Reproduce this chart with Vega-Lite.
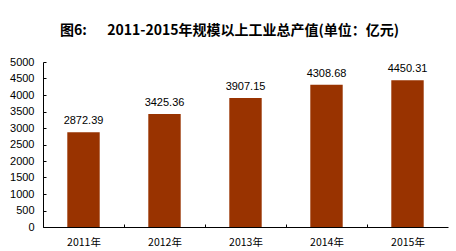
{
  "$schema": "https://vega.github.io/schema/vega-lite/v6.json",
  "width": 405,
  "height": 165,
  "autosize": {"type": "none"},
  "padding": {"left": 43, "right": 8, "top": 62, "bottom": 24},
  "background": "white",
  "title": {
    "text": "图6:\u3000\u00a0\u00a02011-2015年规模以上工业总产值(单位：亿元)",
    "font": "Noto Sans CJK SC",
    "fontSize": 14,
    "fontWeight": "bold",
    "color": "black",
    "anchor": "middle",
    "frame": "group",
    "dx": -16,
    "offset": 18
  },
  "data": {
    "values": [
      {"year": "2011年", "value": 2872.39, "label": "2872.39"},
      {"year": "2012年", "value": 3425.36, "label": "3425.36"},
      {"year": "2013年", "value": 3907.15, "label": "3907.15"},
      {"year": "2014年", "value": 4308.68, "label": "4308.68"},
      {"year": "2015年", "value": 4450.31, "label": "4450.31"}
    ]
  },
  "config": {
    "view": {"stroke": null},
    "axis": {"grid": false, "domainColor": "black", "tickColor": "black", "labelColor": "black", "title": null}
  },
  "encoding": {
    "x": {
      "field": "year",
      "type": "nominal",
      "sort": null,
      "scale": {"paddingInner": 0.6, "paddingOuter": 0.3},
      "axis": {
        "labelAngle": 0,
        "labelFont": "Noto Sans CJK SC",
        "labelFontSize": 10.5,
        "tickSize": -3,
        "tickOffset": -40.5,
        "labelOffset": 40.5,
        "labelPadding": 13
      }
    },
    "y": {
      "field": "value",
      "type": "quantitative",
      "scale": {"domain": [0, 5000], "nice": false},
      "axis": {
        "values": [0, 500, 1000, 1500, 2000, 2500, 3000, 3500, 4000, 4500, 5000],
        "format": "d",
        "labelFont": "Liberation Sans",
        "labelFontSize": 11,
        "tickSize": -3,
        "labelPadding": 12
      }
    }
  },
  "layer": [
    {"mark": {"type": "bar", "color": "#993300"}},
    {
      "mark": {"type": "text", "baseline": "alphabetic", "dy": -8, "font": "Liberation Sans", "fontSize": 11, "color": "black"},
      "encoding": {"text": {"field": "label"}}
    }
  ]
}
